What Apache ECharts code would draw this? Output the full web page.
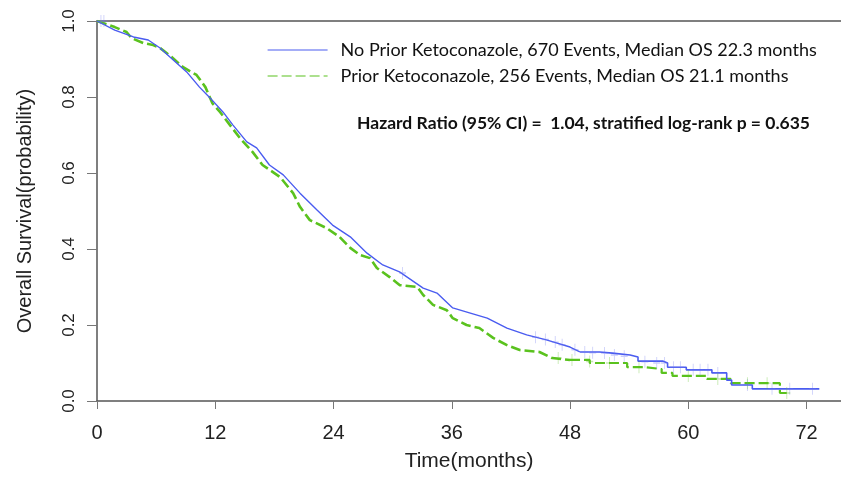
<!DOCTYPE html>
<html>
<head>
<meta charset="utf-8">
<script src="https://cdn.jsdelivr.net/npm/echarts@6/dist/echarts.min.js"></script>
<style>
  html, body { margin: 0; padding: 0; background: #fff; }
  #chart { width: 841px; height: 481px; }
</style>
</head>
<body>
<div id="chart"></div>
<script>
// series names
var nameNo = 'No Prior Ketoconazole, 670 Events, Median OS 22.3 months'
var namePrior = 'Prior Ketoconazole, 256 Events, Median OS 21.1 months'

// x ticks (months)
var xTicks = [0, 12, 24, 36, 48, 60, 72]

// No prior ketoconazole - dense part
var noTime = [0, 1.8, 3.7, 5.2, 6.4, 7.4, 9.1, 10.4, 11.5, 12.8, 13.8, 15.2, 16.2, 17.5, 18.9, 20.6, 22.3, 23.9, 25.7, 27.4, 29.0, 30.7, 33.1, 34.5, 36.1, 37.8, 39.6, 41.6, 43.6, 45.6, 48.0, 49.0]
var noSurv = [1.0, 0.976, 0.958, 0.95, 0.929, 0.905, 0.866, 0.826, 0.797, 0.76, 0.726, 0.682, 0.666, 0.621, 0.595, 0.547, 0.503, 0.463, 0.432, 0.389, 0.358, 0.34, 0.297, 0.284, 0.245, 0.232, 0.218, 0.192, 0.174, 0.161, 0.142, 0.129]
// tail, drawn as steps
var noTailTime = [49.0, 51.0, 52.3, 54.1, 54.9, 57.4, 57.9, 59.8, 62.4, 63.9, 64.4, 66.5, 73.3]
var noTailSurv = [0.129, 0.126, 0.121, 0.116, 0.105, 0.1, 0.089, 0.082, 0.074, 0.055, 0.042, 0.032, 0.032]
// censor marks
var noCensTime = [0.4, 0.7, 31.0, 44.5, 45.5, 46.5, 47.2, 48.5, 49.5, 50.3, 51.5, 52.5, 53.5, 55.6, 56.8, 57.6, 58.5, 59.2, 60.5, 61.2, 62.0, 63.0, 66.0, 68.5, 70.3, 72.6]
var noCensSurv = [1.0, 1.0, 0.337, 0.168, 0.162, 0.155, 0.148, 0.135, 0.129, 0.127, 0.126, 0.121, 0.118, 0.103, 0.1, 0.1, 0.089, 0.089, 0.082, 0.082, 0.082, 0.074, 0.042, 0.032, 0.032, 0.032]

// Prior ketoconazole
var priorTime = [0, 1.8, 3.0, 3.5, 4.7, 5.7, 6.4, 7.6, 8.7, 10.1, 11.0, 11.7, 12.5, 13.5, 14.5, 15.8, 16.8, 18.6, 19.9, 20.6, 21.6, 23.3, 24.6, 25.7, 26.7, 27.7, 28.4, 29.7, 30.7, 32.5, 33.1, 34.1, 35.5, 36.1, 37.5, 38.8, 40.2, 41.6, 42.9, 44.9, 46.2, 48.0]
var priorSurv = [1.0, 0.984, 0.971, 0.955, 0.942, 0.937, 0.929, 0.905, 0.879, 0.858, 0.826, 0.784, 0.76, 0.726, 0.692, 0.655, 0.621, 0.589, 0.547, 0.511, 0.476, 0.455, 0.432, 0.403, 0.384, 0.376, 0.35, 0.326, 0.305, 0.3, 0.279, 0.253, 0.239, 0.218, 0.2, 0.192, 0.166, 0.147, 0.134, 0.129, 0.113, 0.108]
var priorTailTime = [48.0, 50.0, 53.8, 55.6, 57.3, 58.4, 61.9, 64.3, 69.3, 70.0]
var priorTailSurv = [0.108, 0.1, 0.089, 0.084, 0.074, 0.066, 0.058, 0.047, 0.021, 0.021]
var priorCensTime = [46.8, 48.2, 50.0, 52.0, 55.0, 60.0, 63.0, 66.0, 68.0, 70.0]
var priorCensSurv = [0.113, 0.108, 0.104, 0.1, 0.089, 0.066, 0.058, 0.047, 0.047, 0.021]

var blue = '#4a5cf0'
var green = '#5ac21e'
var plus = 'path://M4.4,0H5.6V10H4.4ZM0,4.4H10V5.6H0Z'

function pairs(xs, ys) {
  return xs.map(function (x, i) { return [x, ys[i]] })
}

var chart = echarts.init(document.getElementById('chart'))

var option = {
  animation: false,
  grid: { left: 97, right: 0, top: 21, bottom: 80 },
  legend: {
    data: [nameNo, namePrior],
    orient: 'vertical',
    left: 262,
    top: 36,
    itemWidth: 60,
    itemHeight: 14,
    itemGap: 8,
    itemStyle: { color: 'transparent', borderWidth: 0 },
    lineStyle: { width: 1.2 },
    textStyle: { fontFamily: 'Lato', fontSize: 18, color: '#111', padding: [0, 0, 0, 8] }
  },
  graphic: [{
    type: 'text',
    left: 357,
    top: 114,
    style: {
      text: 'Hazard Ratio (95% CI) =  1.04, stratified log-rank p = 0.635',
      font: 'bold 17.5px Lato',
      fill: '#111'
    }
  }],
  xAxis: [{
    type: 'value',
    min: 0,
    max: 75.5,
    name: 'Time(months)',
    nameLocation: 'middle',
    nameGap: 50,
    nameTextStyle: { fontFamily: 'Liberation Sans', fontSize: 21, color: '#222' },
    axisLine: { lineStyle: { color: '#555', width: 1.5 } },
    axisTick: { customValues: xTicks, length: 8, lineStyle: { color: '#777' } },
    axisLabel: { customValues: xTicks, margin: 22, fontFamily: 'Liberation Sans', fontSize: 20, color: '#222' },
    splitLine: { show: false }
  }, {
    type: 'value',
    position: 'top',
    min: 0,
    max: 75.5,
    axisLine: { show: true, lineStyle: { color: '#555', width: 1.5 } },
    axisTick: { show: false },
    axisLabel: { show: false },
    splitLine: { show: false }
  }],
  yAxis: {
    type: 'value',
    min: 0,
    max: 1,
    interval: 0.2,
    name: 'Overall Survival(probability)',
    nameLocation: 'middle',
    nameRotate: 90,
    nameGap: 62,
    nameTextStyle: { fontFamily: 'Liberation Sans', fontSize: 20, color: '#222' },
    axisLine: { show: true, lineStyle: { color: '#555', width: 1.5 } },
    axisTick: { show: true, length: 10, lineStyle: { color: '#777' } },
    axisLabel: {
      rotate: 90,
      margin: 19,
      fontFamily: 'Liberation Sans',
      fontSize: 17,
      color: '#222',
      formatter: function (v) { return v.toFixed(1) }
    },
    splitLine: { show: false }
  },
  series: [
    {
      name: nameNo, type: 'line', symbol: 'none',
      data: pairs(noTime, noSurv),
      lineStyle: { color: blue, width: 1.4 }, itemStyle: { color: blue }, z: 3
    },
    {
      name: nameNo, type: 'line', symbol: 'none', step: 'end',
      data: pairs(noTailTime, noTailSurv),
      lineStyle: { color: blue, width: 1.6 }, itemStyle: { color: blue }, z: 3
    },
    {
      name: namePrior, type: 'line', symbol: 'none',
      data: pairs(priorTime, priorSurv),
      lineStyle: { color: green, width: 2.6, type: [10, 4] }, itemStyle: { color: green }, z: 2
    },
    {
      name: namePrior, type: 'line', symbol: 'none', step: 'end',
      data: pairs(priorTailTime, priorTailSurv),
      lineStyle: { color: green, width: 2.2, type: [10, 4] }, itemStyle: { color: green }, z: 2
    },
    {
      name: 'noCensor', type: 'scatter', symbol: plus, symbolSize: [7, 12],
      data: pairs(noCensTime, noCensSurv),
      itemStyle: { color: 'rgba(110,120,240,0.45)' }, z: 4
    },
    {
      name: 'priorCensor', type: 'scatter', symbol: plus, symbolSize: [7, 12],
      data: pairs(priorCensTime, priorCensSurv),
      itemStyle: { color: 'rgba(90,194,30,0.45)' }, z: 4
    }
  ]
}

chart.setOption(option)
</script>
</body>
</html>
